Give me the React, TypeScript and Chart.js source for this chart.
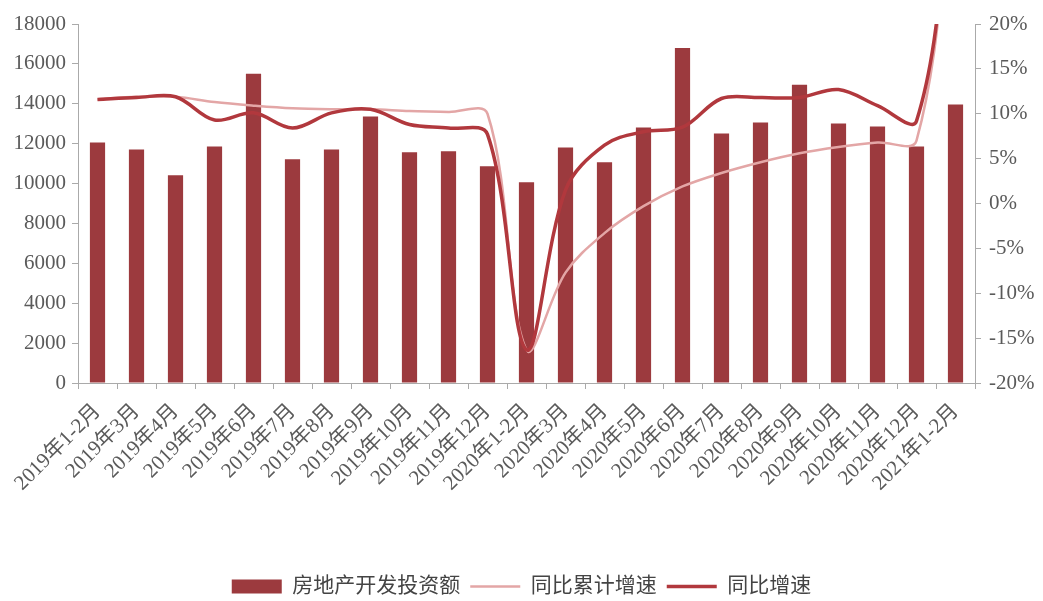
import React, { useEffect, useRef } from "react";
import { Chart, registerables } from "chart.js";

Chart.register(...registerables);

const categories = [
  "2019年1-2月", "2019年3月", "2019年4月", "2019年5月", "2019年6月", "2019年7月",
  "2019年8月", "2019年9月", "2019年10月", "2019年11月", "2019年12月",
  "2020年1-2月", "2020年3月", "2020年4月", "2020年5月", "2020年6月", "2020年7月",
  "2020年8月", "2020年9月", "2020年10月", "2020年11月", "2020年12月", "2021年1-2月",
];

const investment = [
  12060, 11710, 10420, 11860, 15500, 11220, 11710, 13360, 11570, 11620, 10870,
  10070, 11810, 11070, 12810, 16800, 12510, 13060, 14960, 13010, 12860, 11860, 13960,
];

const cumulativeGrowth = [
  11.6, 11.9, 11.9, 11.3, 10.9, 10.6, 10.5, 10.5, 10.3, 10.2, 10.0,
  -16.3, -7.7, -3.3, -0.3, 1.9, 3.4, 4.6, 5.6, 6.3, 6.8, 7.0, 38.3,
];

const monthlyGrowth = [
  11.6, 11.8, 11.9, 9.3, 10.1, 8.4, 10.1, 10.5, 8.8, 8.4, 7.7,
  -16.3, 1.5, 6.5, 8.0, 8.5, 11.7, 11.8, 11.8, 12.7, 10.9, 9.2, 38.3,
];

const leftTicks = { min: 0, max: 18000, step: 2000 };
const rightTicks = { min: -20, max: 20, step: 5 };

const FONT = "'Liberation Serif', 'Noto Sans CJK SC', serif";

export default function App() {
  const ref = useRef<HTMLCanvasElement | null>(null);

  useEffect(() => {
    document.body.style.margin = "0";
    const canvas = ref.current;
    if (!canvas) return;
    const chart = new Chart(canvas, {
      type: "bar",
      data: {
        labels: categories,
        datasets: [
          {
            type: "bar",
            label: "房地产开发投资额",
            data: investment,
            backgroundColor: "#9c3a3e",
            borderWidth: 0,
            barPercentage: 0.39,
            categoryPercentage: 1,
            yAxisID: "y",
            pointStyle: "rect",
            order: 3,
          } as any,
          {
            type: "line",
            label: "同比累计增速",
            data: cumulativeGrowth,
            borderColor: "#e3a6a6",
            backgroundColor: "#e3a6a6",
            borderWidth: 2.5,
            pointRadius: 0,
            tension: 0.35,
            yAxisID: "y1",
            pointStyle: "line",
            order: 2,
          } as any,
          {
            type: "line",
            label: "同比增速",
            data: monthlyGrowth,
            borderColor: "#b1383d",
            backgroundColor: "#b1383d",
            borderWidth: 3.5,
            pointRadius: 0,
            tension: 0.35,
            yAxisID: "y1",
            pointStyle: "line",
            order: 1,
          } as any,
        ],
      },
      options: {
        responsive: false,
        animation: false,
        layout: { padding: { top: 24, bottom: -6, left: 0, right: 0 } },
        plugins: {
          tooltip: { enabled: false },
          legend: {
            position: "bottom",
            labels: {
              usePointStyle: true,
              pointStyleWidth: 50,
              boxHeight: 14,
              padding: 10,
              color: "#444",
              font: { family: FONT, size: 21 },
              sort: (a: any, b: any) => a.datasetIndex - b.datasetIndex,
            },
          },
        },
        scales: {
          x: {
            offset: true,
            grid: { drawOnChartArea: false, drawTicks: true, tickLength: 6, color: "#aaa", offset: true },
            border: { color: "#aaa" },
            ticks: {
              autoSkip: false,
              minRotation: 45,
              maxRotation: 45,
              padding: 10,
              color: "#5a5a5a",
              font: { family: FONT, size: 21 },
            },
            afterFit: (s: any) => { s.height = 183; },
          },
          y: {
            position: "left",
            min: leftTicks.min,
            max: leftTicks.max,
            ticks: {
              stepSize: leftTicks.step,
              color: "#5a5a5a",
              padding: 6,
              font: { family: FONT, size: 21 },
              callback: (v: any) => String(v),
            },
            grid: { drawOnChartArea: false, drawTicks: true, tickLength: 6, color: "#aaa" },
            border: { color: "#aaa" },
            afterFit: (s: any) => { s.width = 78; },
          },
          y1: {
            position: "right",
            min: rightTicks.min,
            max: rightTicks.max,
            ticks: {
              stepSize: rightTicks.step,
              color: "#5a5a5a",
              padding: 8,
              font: { family: FONT, size: 21 },
              callback: (v: any) => `${v}%`,
            },
            grid: { drawOnChartArea: false, drawTicks: true, tickLength: 6, color: "#aaa" },
            border: { color: "#aaa" },
            afterFit: (s: any) => { s.width = 68; },
          },
        },
      },
    });
    return () => chart.destroy();
  }, []);

  return (
    <div style={{ width: 1043, height: 601, background: "#fff" }}>
      <canvas ref={ref} width={1043} height={601} />
    </div>
  );
}
